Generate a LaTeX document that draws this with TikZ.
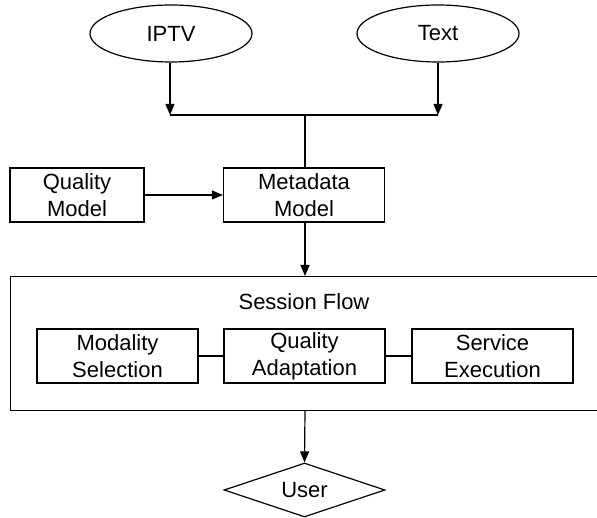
\documentclass[tikz,border=0pt]{standalone}
\usepackage{fontspec}
\setmainfont{Liberation Sans}
\usetikzlibrary{shapes.geometric,arrows.meta}
\begin{document}
\begin{tikzpicture}[x=1pt,y=-1pt,
  every node/.style={font=\fontsize{22}{27}\selectfont, align=center, inner sep=0pt},
  line/.style={line width=1.2pt, draw=black},
  arr/.style={line, -{Triangle[length=11pt,width=9pt]}},
  src/.style={ellipse, line, minimum width=162pt, minimum height=57pt},
  blk/.style={rectangle, line, minimum width=161pt, minimum height=54pt},
  sink/.style={diamond, line, minimum width=161pt, minimum height=54pt, aspect=3}
]
\useasboundingbox (0,0) rectangle (597,518);

% sources
\node[src] (iptv) at (171,33.5) {IPTV};
\node[src] (text) at (438,33.5) {Text};

% merge bar
\coordinate (jl) at (170,115);
\coordinate (jr) at (438,115);
\coordinate (jm) at (305,115);
\draw[line] (jl) -- (jr);
\draw[arr] (iptv.south -| jl) -- (jl);
\draw[arr] (text.south -| jr) -- (jr);

% models
\node[blk, minimum width=134pt] (qm) at (77,195) {Quality\\Model};
\node[blk] (mm) at (304,195) {Metadata\\Model};
\draw[line] (jm) -- (jm |- mm.north);
\draw[arr] (qm) -- (mm);

% session flow container
\node[rectangle, line, minimum width=590pt, minimum height=134pt, anchor=north west] (sf) at (10,276) {};
\node (sft) at (304,302) {Session Flow};
\draw[arr] (mm.south -| jm) -- (jm |- sf.north);

% session steps
\node[blk] (ms) at (117.5,356) {Modality\\Selection};
\node[blk] (qa) at (304.5,356) {Quality\\Adaptation};
\node[blk] (se) at (492.5,356) {Service\\Execution};
\draw[line] (ms) -- (qa);
\draw[line] (qa) -- (se);

% end user
\node[sink] (user) at (304.5,490) {User};
\draw[arr] (jm |- sf.south) -- (user.north);
\end{tikzpicture}
\end{document}
